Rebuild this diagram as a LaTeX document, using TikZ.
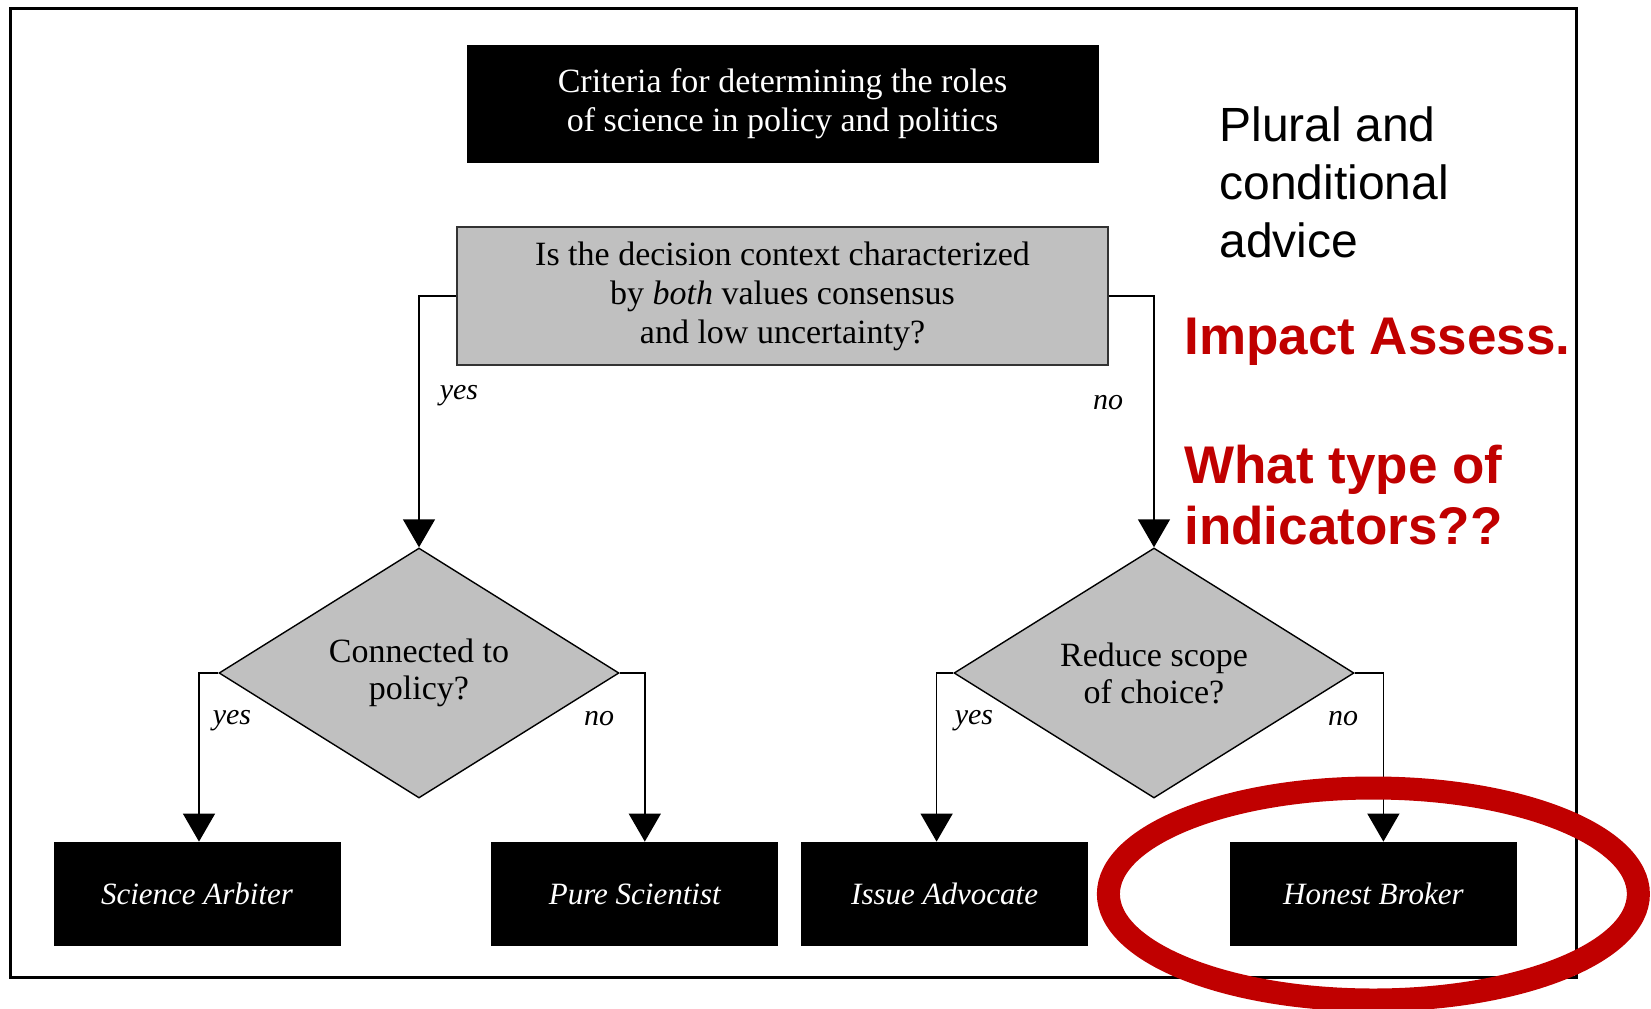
\documentclass[tikz,border=0pt]{standalone}
\usepackage{fontspec}
\setmainfont{Liberation Serif}
\newfontfamily\notefont{Liberation Sans}
\definecolor{boxgray}{RGB}{192,192,192}
\definecolor{markred}{RGB}{192,0,0}
\usetikzlibrary{positioning}
\usetikzlibrary{shapes.geometric,arrows.meta}
\tikzset{
  critbox/.style={fill=black, draw=black, text=white, align=center, font=\fontsize{17}{19.5}\selectfont},
  qbox/.style={fill=boxgray, draw=black!80, line width=0.6pt, align=center, font=\fontsize{17}{19.5}\selectfont},
  choice/.style={diamond, fill=boxgray, draw=black, line width=0.7pt, align=center, inner sep=0pt,
    minimum width=200pt, minimum height=125pt, font=\fontsize{17}{18.5}\selectfont},
  rolebox/.style={fill=black, text=white, minimum width=143.5pt, minimum height=52pt,
    font=\fontsize{15.5}{18}\selectfont\itshape},
  lbl/.style={inner sep=0pt, font=\fontsize{15}{18}\selectfont\itshape},
  arr/.style={-{Triangle[length=14pt,width=16pt]}, line width=0.7pt},
  note/.style={inner sep=0pt, align=left, font=\notefont\fontsize{24}{29}\selectfont},
  rednote/.style={inner sep=0pt, align=left, text=markred, font=\notefont\bfseries\fontsize{26.5}{30.5}\selectfont},
}

\begin{document}
\begin{tikzpicture}[x=0.5pt, y=-0.5pt]
  \useasboundingbox (0,0) rectangle (1651,1008);
  \draw[line width=1.5pt] (10,8) rectangle (1576,977);

  \node[qbox, minimum width=325.5pt, minimum height=69pt] (q) at (782.5,296)
    {Is the decision context characterized\\by \textit{both} values consensus\\and low uncertainty?};
  \node[critbox, minimum width=315.5pt, minimum height=58.5pt, above=32pt of q] (crit)
    {Criteria for determining the roles\\of science in policy and politics};

  \node[choice] (conn) at (419,673) {Connected to\\policy?};
  \node[choice] (scope) at (1154,673) {Reduce scope\\of choice?};

  \node[rolebox] (sa) at (197,894) {Science Arbiter};
  \node[rolebox, right=75pt of sa] (ps) {Pure Scientist};
  \node[rolebox, right=11pt of ps] (ia) {Issue Advocate};
  \node[rolebox, right=70.5pt of ia] (hb) {Honest Broker};

  \draw[arr] (q.west) -| (conn.north);
  \draw[arr] (q.east) -| (scope.north);
  \draw[arr] (conn.west) -| ([xshift=1pt]sa.north);
  \draw[arr] (conn.east) -| ([xshift=5pt]ps.north);
  \draw[arr] (scope.west) -| ([xshift=-4pt]ia.north);
  \draw[arr] (scope.east) -| ([xshift=5pt]hb.north);

  \node[lbl] (y1) at (459,396) {yes};
  \node[lbl] (n1) at (1108,403) {no};
  \node[lbl] (y2) at (232,721) {yes};
  \node[lbl] (n2) at (599,719) {no};
  \node[lbl] (y3) at (974,721) {yes};
  \node[lbl] (n3) at (1343,719) {no};

  % notes on the right
  \node[note, anchor=north west] (plural) at (1219,106) {Plural and\\conditional\\advice};
  \node[rednote, anchor=base west] (impact) at (1184,354) {Impact Assess.};
  \node[rednote, anchor=north west] (ind) at (1184,445) {What type of\\indicators??};

  \draw[markred, line width=11.5pt] (hb.center) ellipse [x radius=265, y radius=106];
\end{tikzpicture}
\end{document}
